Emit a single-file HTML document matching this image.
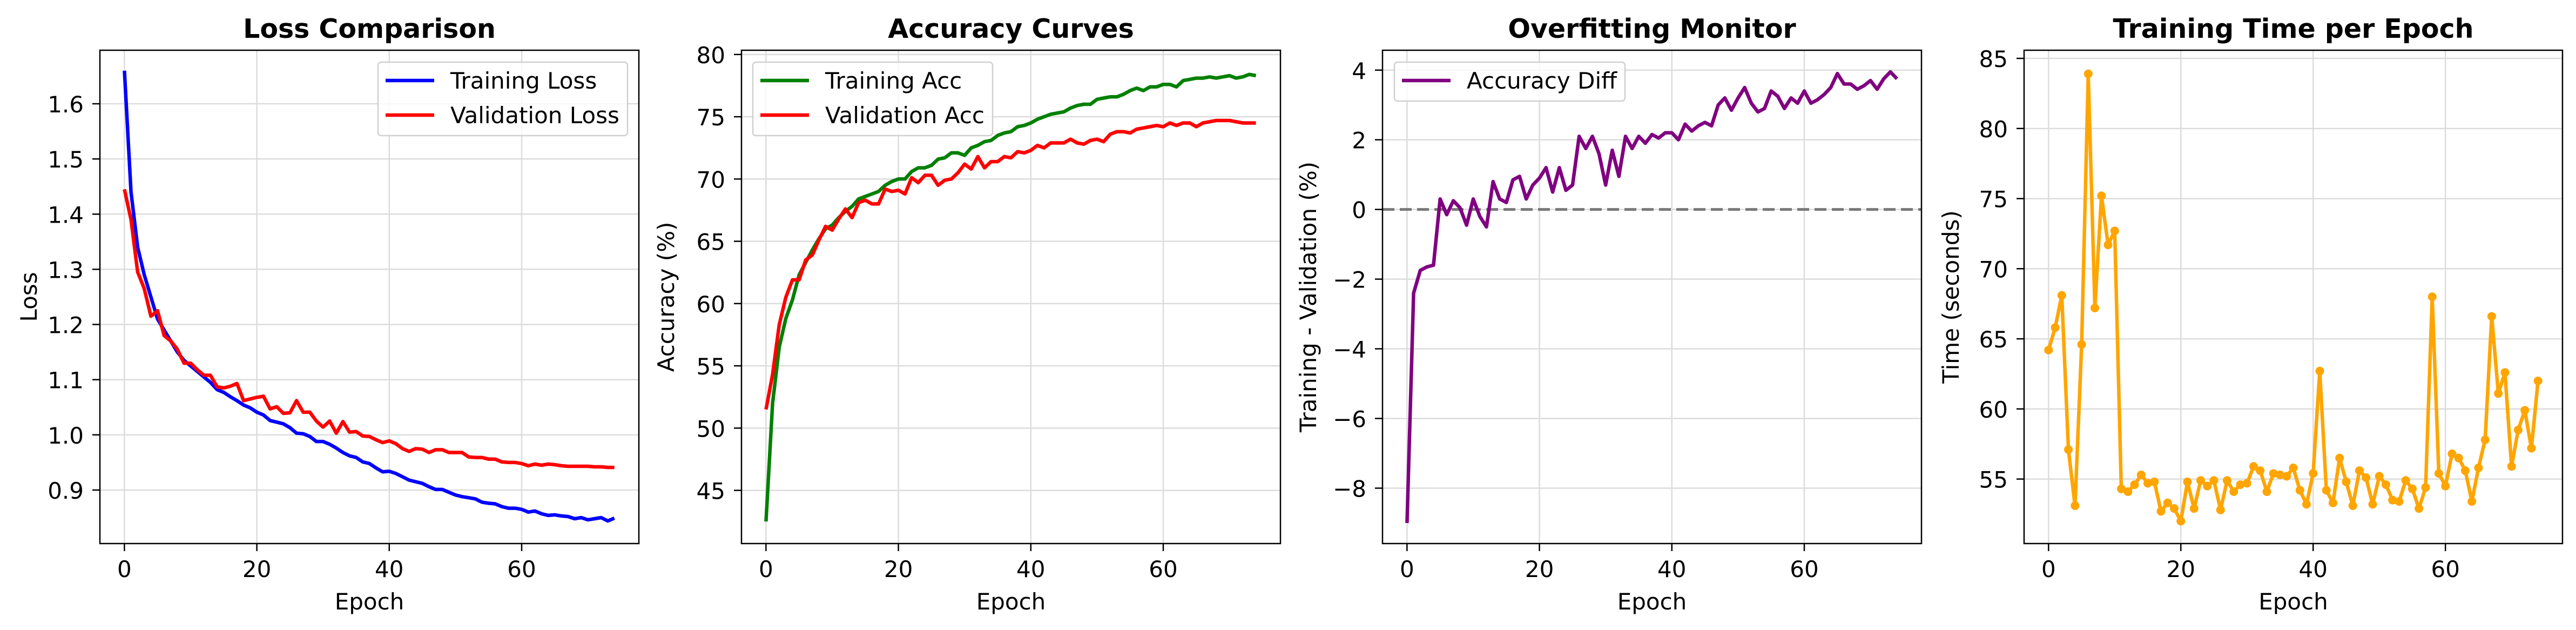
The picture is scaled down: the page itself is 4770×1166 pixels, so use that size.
<!DOCTYPE html>
<html><head><meta charset="utf-8"><style>
html,body{margin:0;padding:0;background:#fff;}
svg{display:block;font-family:"DejaVu Sans","Liberation Sans",sans-serif;}
</style></head><body>
<svg id="fig" width="4770" height="1166" viewBox="0 0 4770 1166"></svg>
<script>
const epochs = Array.from({length:75},(_,i)=>i);
const trainLoss=[1.66,1.44,1.34,1.29,1.25,1.21,1.19,1.17,1.15,1.135,1.125,1.115,1.105,1.095,1.082,1.077,1.069,1.062,1.054,1.049,1.041,1.036,1.026,1.023,1.020,1.013,1.003,1.002,0.997,0.988,0.988,0.983,0.976,0.968,0.962,0.959,0.951,0.948,0.940,0.933,0.934,0.930,0.924,0.918,0.915,0.912,0.906,0.901,0.901,0.896,0.891,0.888,0.886,0.884,0.878,0.876,0.875,0.870,0.867,0.867,0.865,0.860,0.862,0.857,0.854,0.855,0.853,0.852,0.848,0.850,0.846,0.848,0.850,0.844,0.849];
const valLoss=[1.445,1.39,1.295,1.265,1.215,1.225,1.18,1.17,1.155,1.13,1.13,1.118,1.108,1.108,1.087,1.085,1.088,1.093,1.062,1.065,1.068,1.070,1.047,1.051,1.039,1.040,1.062,1.041,1.041,1.025,1.014,1.025,1.003,1.024,1.005,1.006,0.998,0.997,0.991,0.986,0.989,0.984,0.975,0.970,0.975,0.974,0.968,0.973,0.973,0.968,0.968,0.968,0.960,0.959,0.959,0.956,0.956,0.951,0.950,0.950,0.948,0.944,0.947,0.945,0.947,0.946,0.944,0.943,0.943,0.943,0.943,0.942,0.942,0.941,0.941];
const trainAcc=[42.5,52,56.5,58.8,60.3,62.3,63.3,64.3,65.2,66,66.3,66.9,67.4,67.8,68.4,68.6,68.8,69.0,69.5,69.8,70.0,70.0,70.6,70.9,70.9,71.1,71.6,71.7,72.1,72.1,71.9,72.5,72.7,73.0,73.1,73.5,73.7,73.8,74.2,74.3,74.5,74.8,75.0,75.2,75.3,75.4,75.7,75.9,76.0,76.0,76.4,76.5,76.6,76.6,76.8,77.1,77.3,77.1,77.4,77.4,77.6,77.6,77.4,77.9,78.0,78.1,78.1,78.2,78.1,78.2,78.3,78.1,78.2,78.4,78.3];
const valAcc=[51.5,54.3,58.3,60.5,61.9,61.9,63.5,63.9,65.1,66.2,65.9,66.8,67.6,66.9,68.1,68.3,68.0,68.0,69.2,69.0,69.1,68.8,70.1,69.7,70.3,70.3,69.5,69.9,70.0,70.5,71.2,70.8,71.8,70.9,71.4,71.4,71.8,71.7,72.2,72.1,72.3,72.7,72.5,72.9,72.9,72.9,73.2,72.9,72.8,73.1,73.2,73.0,73.6,73.8,73.8,73.7,74.0,74.1,74.2,74.3,74.2,74.5,74.3,74.5,74.5,74.2,74.5,74.6,74.7,74.7,74.7,74.6,74.5,74.5,74.5];
const accDiff=[-9,-2.4,-1.75,-1.65,-1.6,0.3,-0.15,0.25,0.05,-0.45,0.3,-0.2,-0.5,0.8,0.3,0.2,0.85,0.95,0.3,0.7,0.9,1.2,0.5,1.2,0.55,0.7,2.1,1.75,2.1,1.6,0.7,1.7,0.95,2.1,1.75,2.1,1.9,2.15,2.05,2.2,2.2,2.0,2.45,2.25,2.4,2.5,2.4,3.0,3.2,2.85,3.2,3.5,3.05,2.8,2.9,3.4,3.25,2.9,3.2,3.05,3.4,3.05,3.15,3.3,3.5,3.9,3.6,3.6,3.45,3.55,3.7,3.45,3.75,3.95,3.75];
const epochTime=[64.2,65.8,68.1,57.1,53.1,64.6,83.9,67.2,75.2,71.7,72.7,54.3,54.1,54.6,55.3,54.7,54.8,52.7,53.3,52.9,52.0,54.8,52.9,54.9,54.5,54.9,52.8,54.9,54.1,54.6,54.7,55.9,55.6,54.1,55.4,55.3,55.2,55.8,54.2,53.2,55.4,62.7,54.2,53.3,56.5,54.8,53.1,55.6,55.1,53.2,55.2,54.6,53.5,53.4,54.9,54.3,52.9,54.4,68.0,55.4,54.5,56.8,56.5,55.6,53.4,55.8,57.8,66.6,61.1,62.6,55.9,58.5,59.9,57.2,62.0];
const xTicks=[0,20,40,60];
const lossTicks=[0.9,1.0,1.1,1.2,1.3,1.4,1.5,1.6];
const accTicks=[45,50,55,60,65,70,75,80];
const diffTicks=[-8,-6,-4,-2,0,2,4];
const timeTicks=[55,60,65,70,75,80,85];

const NS="http://www.w3.org/2000/svg";
const svg=document.getElementById('fig');
function el(tag,attrs,parent,text){const e=document.createElementNS(NS,tag);for(const k in attrs)e.setAttribute(k,attrs[k]);if(text!==undefined)e.textContent=text;(parent||svg).appendChild(e);return e;}
const TOP=93,BOT=1006,FS=42;
function panel(cfg){
  const g=el('g',{});
  
  
  const L=cfg.left,R=cfg.right;
  const xs=v=>L+(v-(-3.7))/(77.7-(-3.7))*(R-L);
  const ys=v=>BOT-(v-cfg.ymin)/(cfg.ymax-cfg.ymin)*(BOT-TOP);
  xTicks.forEach(t=>{const l=el('line',{x1:xs(t),x2:xs(t),y1:TOP,y2:BOT,stroke:'#dcdcdc','stroke-width':2.5},g);});
  cfg.yticks.forEach(t=>{const l=el('line',{x1:L,x2:R,y1:ys(t),y2:ys(t),stroke:'#dcdcdc','stroke-width':2.5},g);});
  if(cfg.zero){const z=el('line',{x1:L,x2:R,y1:ys(0),y2:ys(0),stroke:'#777','stroke-width':5,'stroke-dasharray':'22,10'},g);}
  cfg.series.forEach(s=>{
    const d=s.data.map((v,i)=>(i?'L':'M')+xs(epochs[i]).toFixed(1)+','+ys(v).toFixed(1)).join('');
    const p=el('path',{d:d,fill:'none',stroke:s.color,'stroke-width':6.5,'stroke-linejoin':'round'},g);
    
    
    if(s.markers){s.data.forEach((v,i)=>{const c=el('circle',{cx:xs(epochs[i]),cy:ys(v),r:8,fill:s.color},g);});}
  });
  const fr=el('rect',{x:L,y:TOP,width:R-L,height:BOT-TOP,fill:'none',stroke:'#000','stroke-width':2.5},g);
  
  xTicks.forEach(t=>{el('line',{x1:xs(t),x2:xs(t),y1:BOT,y2:BOT+14,stroke:'#000','stroke-width':2.5},g);
    const tx=el('text',{x:xs(t),y:BOT+62,'font-size':FS,'text-anchor':'middle'},g,String(t));});
  cfg.yticks.forEach(t=>{el('line',{x1:L-14,x2:L,y1:ys(t),y2:ys(t),stroke:'#000','stroke-width':2.5},g);
    const lab=cfg.fmt(t);
    const tx=el('text',{x:L-30,y:ys(t)+16,'font-size':FS,'text-anchor':'end'},g,lab);});
  const ti=el('text',{x:(L+R)/2,y:70,'font-size':49,'font-weight':'bold','text-anchor':'middle'},g,cfg.title);
  
  const xl=el('text',{x:(L+R)/2,y:1128,'font-size':FS,'text-anchor':'middle'},g,'Epoch');
  
  const yl=el('text',{x:0,y:0,'font-size':FS,'text-anchor':'middle',transform:`translate(${cfg.ylabX},${(TOP+BOT)/2}) rotate(-90)`},g,cfg.ylabel);
  
  if(cfg.legend){
    const lg=cfg.legend;
    const lgG=el('g',{},g);
    el('rect',{x:lg.x,y:lg.y,width:lg.w,height:lg.h,rx:6,fill:'#fff','fill-opacity':0.8,stroke:'#d0d0d0','stroke-width':2.5},lgG);
    cfg.series.forEach((s,i)=>{
      const yy=lg.y+34+i*64;
      el('line',{x1:lg.x+14,x2:lg.x+104,y1:yy,y2:yy,stroke:s.color,'stroke-width':6.5},lgG);
      const t=el('text',{x:lg.x+134,y:yy+15,'font-size':FS},lgG,s.label);
      
    });
  }
}
panel({name:'loss-comparison-panel',left:185,right:1183,ymin:0.803,ymax:1.697,yticks:lossTicks,fmt:t=>t.toFixed(1),title:'Loss Comparison',ylabel:'Loss',ylabX:68,
  series:[{name:'training-loss-line',data:trainLoss,color:'#0000ff',label:'Training Loss'},{name:'validation-loss-line',data:valLoss,color:'#ff0000',label:'Validation Loss'}],
  legend:{x:700,y:115,w:462,h:136}});
panel({name:'accuracy-curves-panel',left:1373,right:2371,ymin:40.73,ymax:80.34,yticks:accTicks,fmt:t=>String(t),title:'Accuracy Curves',ylabel:'Accuracy (%)',ylabX:1248,
  series:[{name:'training-acc-line',data:trainAcc,color:'#008000',label:'Training Acc'},{name:'validation-acc-line',data:valAcc,color:'#ff0000',label:'Validation Acc'}],
  legend:{x:1394,y:115,w:444,h:136}});
panel({name:'overfitting-monitor-panel',left:2560,right:3558,ymin:-9.59,ymax:4.57,yticks:diffTicks,fmt:t=>t<0?'\u2212'+Math.abs(t):String(t),title:'Overfitting Monitor',ylabel:'Training - Validation (%)',ylabX:2437,zero:true,
  series:[{name:'accuracy-diff-line',data:accDiff,color:'#800080',label:'Accuracy Diff'}],
  legend:{x:2582,y:115,w:427,h:72}});
panel({name:'training-time-panel',left:3748,right:4745,ymin:50.4,ymax:85.58,yticks:timeTicks,fmt:t=>String(t),title:'Training Time per Epoch',ylabel:'Time (seconds)',ylabX:3627,
  series:[{name:'epoch-time-line',data:epochTime,color:'#ffa500',label:'Time',markers:true}]});
</script>
</body></html>
